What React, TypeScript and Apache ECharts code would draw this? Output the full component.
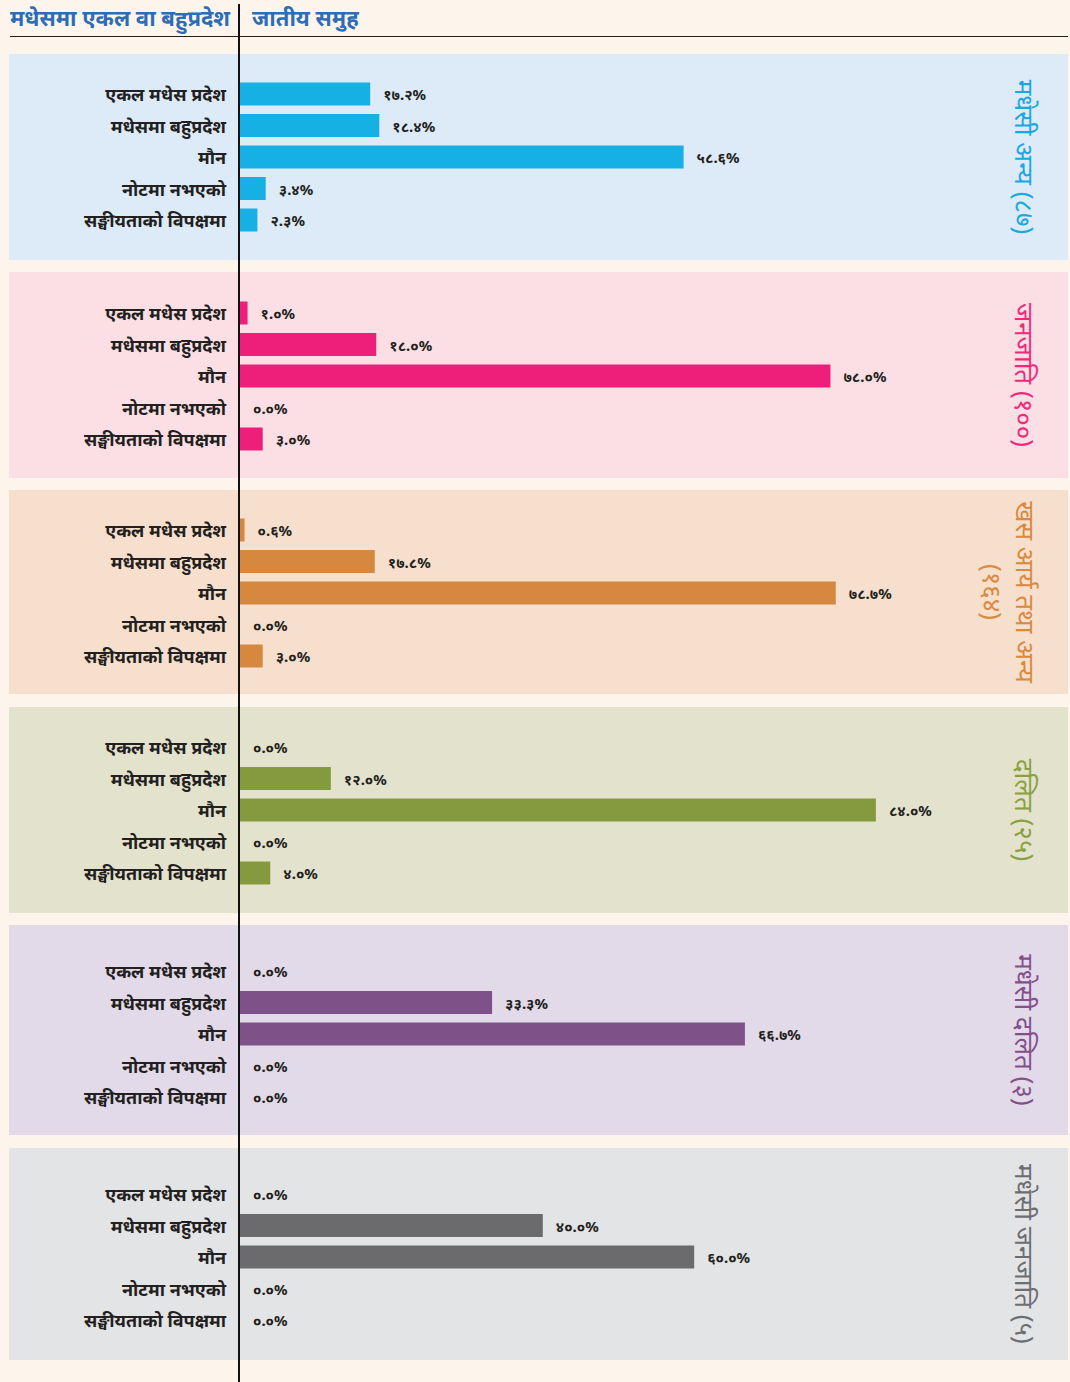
import React, { useEffect, useRef } from "react";
import * as echarts from "echarts";

const categories = [
  "एकल मधेस प्रदेश",
  "मधेसमा बहुप्रदेश",
  "मौन",
  "नोटमा नभएको",
  "सङ्घीयताको विपक्षमा",
];

const groupTitles = [
  "मधेसी अन्य (८७)",
  "जनजाति (१००)",
  "खस आर्य तथा अन्य\n(१६४)",
  "दलित (२५)",
  "मधेसी दलित (३)",
  "मधेसी जनजाति (५)",
];

const madhesiAnya = [17.2, 18.4, 58.6, 3.4, 2.3];
const janajati = [1.0, 18.0, 78.0, 0.0, 3.0];
const khasArya = [0.6, 17.8, 78.7, 0.0, 3.0];
const dalit = [0.0, 12.0, 84.0, 0.0, 4.0];
const madhesiDalit = [0.0, 33.3, 66.7, 0.0, 0.0];
const madhesiJanajati = [0.0, 40.0, 60.0, 0.0, 0.0];

const seriesData = [madhesiAnya, janajati, khasArya, dalit, madhesiDalit, madhesiJanajati];

const barColors = ["#17b0e5", "#ee1f7a", "#d6883e", "#859a3e", "#7f5189", "#6b6b6e"];
const titleColors = ["#1ba8e0", "#ee2a7b", "#d98a3e", "#8aa042", "#834f8c", "#6d6e71"];
const panelColors = ["#ddeaf7", "#fbdfe4", "#f6dfcc", "#e3e2cc", "#e2dae8", "#e3e4e6"];

const panelTops = [54, 272, 490, 707, 925, 1148];
const panelBottoms = [260, 478, 694, 913, 1135, 1360];
const firstRowCenters = [94, 313, 530, 747, 971, 1194];

const headerLeft = "मधेसमा एकल वा बहुप्रदेश";
const headerRight = "जातीय समुह";

const DEV = "०१२३४५६७८९";
const toDev = (s: string) => s.replace(/[0-9]/g, (d) => DEV[Number(d)]);

const FONT = "'Noto Sans', 'Noto Sans Devanagari', sans-serif";

export default function App() {
  const ref = useRef<HTMLDivElement>(null);
  useEffect(() => {
    if (!ref.current) return;
    const chart = echarts.init(ref.current, undefined, { renderer: "svg" });
    const rowH = 31.5;
    const grids = firstRowCenters.map((c) => ({
      left: 240,
      width: 757,
      top: c - rowH / 2,
      height: rowH * 5,
    }));
    const xAxes = grids.map((_, i) => ({
      gridIndex: i,
      type: "value",
      min: 0,
      max: 100,
      show: false,
    }));
    const yAxes = grids.map((_, i) => ({
      gridIndex: i,
      type: "category",
      inverse: true,
      data: categories,
      axisLine: { show: false },
      axisTick: { show: false },
      axisLabel: {
        margin: 14,
        fontSize: 18,
        fontWeight: "bold",
        color: "#231f20",
        fontFamily: FONT,
      },
    }));
    const series = seriesData.map((d, i) => ({
      type: "bar",
      xAxisIndex: i,
      yAxisIndex: i,
      data: d,
      barWidth: 23,
      itemStyle: { color: barColors[i] },
      label: {
        show: true,
        position: "right",
        distance: 13,
        fontSize: 15,
        fontWeight: "bold",
        color: "#231f20",
        fontFamily: FONT,
        formatter: (p: any) => toDev(Number(p.value).toFixed(1)) + "%",
      },
      z: 3,
    }));
    const graphic: any[] = [];
    panelTops.forEach((t, i) => {
      graphic.push({
        type: "rect",
        z: 0,
        shape: { x: 9, y: t, width: 1059, height: panelBottoms[i] - t },
        style: { fill: panelColors[i] },
      });
      const multi = groupTitles[i].includes("\n");
      graphic.push({
        type: "text",
        z: 5,
        x: multi ? 1009 : 1025,
        y: (t + panelBottoms[i]) / 2,
        rotation: -Math.PI / 2,
        style: {
          text: groupTitles[i],
          fill: titleColors[i],
          fontSize: 26,
          fontFamily: FONT,
          align: "center",
          verticalAlign: "middle",
          lineHeight: 33,
        },
      });
    });
    graphic.push({
      type: "line",
      z: 6,
      shape: { x1: 10, y1: 36.5, x2: 1068, y2: 36.5 },
      style: { stroke: "#231f20", lineWidth: 1 },
    });
    graphic.push({
      type: "line",
      z: 6,
      shape: { x1: 239, y1: 4, x2: 239, y2: 1382 },
      style: { stroke: "#111", lineWidth: 2 },
    });
    graphic.push({
      type: "text",
      z: 6,
      x: 10,
      y: 17,
      style: {
        text: headerLeft,
        fill: "#2e6db4",
        fontSize: 22,
        fontWeight: "bold",
        fontFamily: FONT,
        verticalAlign: "middle",
      },
    });
    graphic.push({
      type: "text",
      z: 6,
      x: 252,
      y: 17,
      style: {
        text: headerRight,
        fill: "#2e6db4",
        fontSize: 22,
        fontWeight: "bold",
        fontFamily: FONT,
        verticalAlign: "middle",
      },
    });
    chart.setOption({
      animation: false,
      backgroundColor: "#fdf5ec",
      grid: grids,
      xAxis: xAxes,
      yAxis: yAxes,
      series,
      graphic,
    } as any);
    return () => chart.dispose();
  }, []);
  return (
    <div
      ref={ref}
      style={{ position: "absolute", left: 0, top: 0, width: 1070, height: 1382 }}
    />
  );
}
